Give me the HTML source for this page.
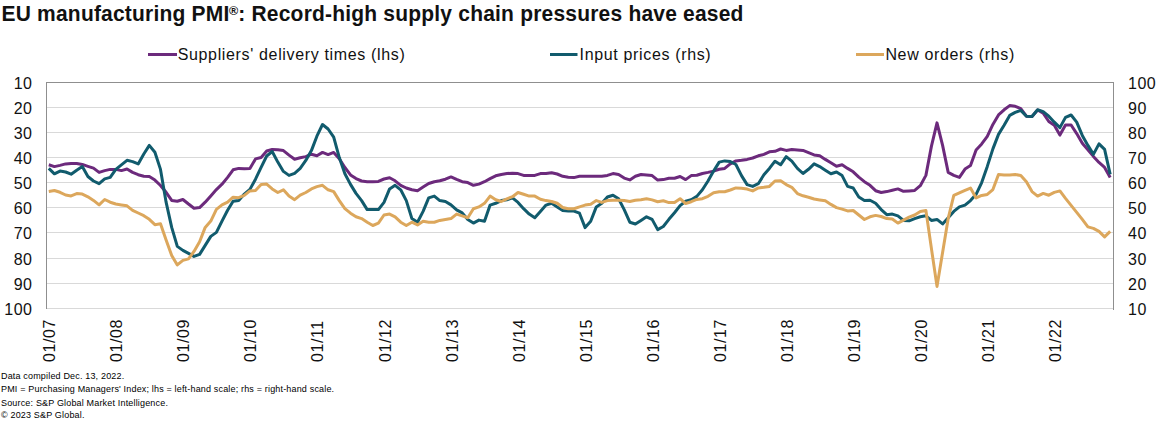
<!DOCTYPE html>
<html><head><meta charset="utf-8"><style>
html,body{margin:0;padding:0;background:#fff;width:1159px;height:422px;overflow:hidden;position:relative;font-family:"Liberation Sans",sans-serif;color:#1e1e1e}
div{position:absolute;white-space:nowrap}
.t{left:1.5px;top:0.5px;font-size:21px;font-weight:bold;color:#111;letter-spacing:0.2px;line-height:26px;transform:scaleY(1.04);transform-origin:0 21px}
.t sup{font-size:12.5px;line-height:0;position:relative;top:2.2px;margin-left:-0.5px;letter-spacing:0}
.lg{top:45px;font-size:16px;letter-spacing:0.65px;line-height:20px;color:#111}
.yl{left:0;width:32.5px;text-align:right;font-size:16px;line-height:19px;color:#111;letter-spacing:0.5px}
.yr{left:1128px;font-size:16px;line-height:19px;color:#111;letter-spacing:0.5px}
.xl{top:333.7px;width:40px;height:16px;font-size:16px;line-height:16px;color:#111;transform:rotate(-90deg);text-align:center;letter-spacing:0.6px}
.fn{left:1px;font-size:9px;letter-spacing:0.17px;line-height:11px;color:#000}
</style></head><body>
<svg width="1159" height="422" style="position:absolute;left:0;top:0">
<g stroke="#d9d9d9" stroke-width="1"><line x1="47" y1="107.5" x2="1113" y2="107.5"/><line x1="47" y1="132.5" x2="1113" y2="132.5"/><line x1="47" y1="157.5" x2="1113" y2="157.5"/><line x1="47" y1="182.5" x2="1113" y2="182.5"/><line x1="47" y1="207.5" x2="1113" y2="207.5"/><line x1="47" y1="232.5" x2="1113" y2="232.5"/><line x1="47" y1="258.5" x2="1113" y2="258.5"/><line x1="47" y1="283.5" x2="1113" y2="283.5"/><line x1="47" y1="308.5" x2="1113" y2="308.5"/></g>
<g stroke="#8f8f8f" stroke-width="1" fill="none"><line x1="46" y1="82.5" x2="1114" y2="82.5"/><line x1="46.5" y1="82" x2="46.5" y2="309"/><line x1="1113.5" y1="82" x2="1113.5" y2="310"/></g>
<g fill="none" stroke-width="3" stroke-linejoin="round" stroke-linecap="butt">
<path d="M48.8 164.8 L54.4 166.6 L60.0 165.4 L65.6 163.9 L71.1 163.4 L76.7 163.4 L82.3 164.4 L87.9 166.3 L93.5 168.1 L99.1 172.4 L104.7 170.6 L110.2 169.4 L115.8 169.4 L121.4 170.6 L127.0 169.0 L132.6 172.4 L138.2 174.7 L143.8 176.2 L149.3 176.5 L154.9 180.1 L160.5 185.5 L166.1 192.3 L171.7 200.4 L177.3 201.3 L182.9 199.5 L188.5 204.0 L194.0 208.2 L199.6 207.6 L205.2 202.2 L210.8 195.9 L216.4 189.6 L222.0 184.2 L227.6 177.4 L233.1 169.8 L238.7 168.4 L244.3 168.8 L249.9 168.6 L255.5 158.9 L261.1 157.5 L266.7 151.0 L272.2 149.4 L277.8 149.7 L283.4 150.6 L289.0 155.1 L294.6 159.3 L300.2 157.8 L305.8 156.6 L311.4 154.2 L316.9 155.7 L322.5 152.4 L328.1 154.6 L333.7 152.4 L339.3 158.7 L344.9 167.5 L350.5 174.9 L356.0 178.6 L361.6 181.0 L367.2 181.7 L372.8 181.7 L378.4 181.4 L384.0 179.0 L389.6 177.8 L395.1 180.8 L400.7 185.3 L406.3 188.0 L411.9 189.8 L417.5 190.7 L423.1 187.1 L428.7 183.5 L434.3 181.7 L439.8 180.8 L445.4 179.2 L451.0 176.9 L456.6 179.4 L462.2 181.7 L467.8 182.6 L473.4 185.3 L478.9 184.1 L484.5 181.7 L490.1 178.6 L495.7 175.8 L501.3 174.5 L506.9 173.6 L512.5 173.2 L518.0 173.6 L523.6 175.4 L529.2 175.4 L534.8 175.4 L540.4 173.6 L546.0 173.6 L551.6 172.7 L557.2 174.0 L562.7 176.3 L568.3 177.2 L573.9 177.6 L579.5 176.3 L585.1 176.3 L590.7 176.3 L596.3 176.3 L601.8 176.3 L607.4 175.4 L613.0 173.6 L618.6 174.5 L624.2 178.1 L629.8 179.9 L635.4 176.3 L641.0 174.5 L646.5 175.0 L652.1 175.6 L657.7 180.1 L663.3 179.6 L668.9 178.3 L674.5 178.3 L680.1 176.5 L685.6 179.6 L691.2 175.6 L696.8 175.3 L702.4 173.5 L708.0 172.4 L713.6 171.1 L719.2 169.3 L724.7 168.4 L730.3 163.9 L735.9 160.9 L741.5 160.3 L747.1 159.4 L752.7 158.0 L758.3 155.8 L763.9 154.4 L769.4 151.8 L775.0 151.3 L780.6 149.0 L786.2 150.4 L791.8 149.5 L797.4 150.0 L803.0 150.4 L808.5 152.6 L814.1 154.9 L819.7 155.8 L825.3 159.4 L830.9 162.7 L836.5 166.3 L842.1 164.8 L847.6 168.4 L853.2 171.8 L858.8 177.2 L864.4 181.7 L870.0 185.3 L875.6 190.7 L881.2 192.5 L886.8 191.6 L892.3 190.2 L897.9 188.9 L903.5 191.3 L909.1 190.9 L914.7 190.4 L920.3 185.7 L925.9 175.4 L931.4 146.4 L937.0 122.9 L942.6 145.4 L948.2 172.4 L953.8 175.4 L959.4 177.4 L965.0 169.1 L970.5 165.6 L976.1 149.9 L981.7 143.9 L987.3 136.4 L992.9 124.4 L998.5 114.9 L1004.1 109.8 L1009.7 105.6 L1015.2 106.3 L1020.8 108.6 L1026.4 116.2 L1032.0 116.5 L1037.6 110.0 L1043.2 113.1 L1048.8 121.5 L1054.3 125.3 L1059.9 135.1 L1065.5 125.0 L1071.1 125.0 L1076.7 133.6 L1082.3 143.2 L1087.9 149.9 L1093.4 156.4 L1099.0 162.4 L1104.6 167.4 L1110.2 177.4" stroke="#6c2a7c"/>
<path d="M48.8 168.4 L54.4 173.8 L60.0 171.1 L65.6 172.0 L71.1 174.2 L76.7 170.2 L82.3 166.6 L87.9 176.5 L93.5 181.0 L99.1 183.7 L104.7 178.9 L110.2 177.4 L115.8 169.3 L121.4 164.8 L127.0 160.3 L132.6 161.6 L138.2 163.9 L143.8 154.0 L149.3 145.4 L154.9 152.2 L160.5 169.4 L166.1 202.2 L171.7 227.4 L177.3 246.4 L182.9 250.4 L188.5 253.4 L194.0 256.4 L199.6 254.4 L205.2 245.4 L210.8 236.4 L216.4 232.4 L222.0 221.1 L227.6 210.3 L233.1 201.3 L238.7 200.4 L244.3 194.1 L249.9 189.4 L255.5 179.2 L261.1 167.4 L266.7 156.0 L272.2 151.5 L277.8 162.1 L283.4 171.4 L289.0 175.4 L294.6 173.3 L300.2 168.4 L305.8 160.4 L311.4 150.6 L316.9 136.2 L322.5 124.5 L328.1 129.0 L333.7 137.1 L339.3 157.6 L344.9 173.8 L350.5 184.4 L356.0 193.4 L361.6 200.6 L367.2 209.6 L372.8 209.6 L378.4 209.6 L384.0 202.4 L389.6 188.9 L395.1 185.3 L400.7 189.8 L406.3 200.6 L411.9 218.6 L417.5 222.2 L423.1 211.4 L428.7 197.9 L434.3 196.1 L439.8 200.6 L445.4 201.5 L451.0 204.9 L456.6 209.9 L462.2 212.9 L467.8 219.5 L473.4 223.1 L478.9 220.1 L484.5 221.3 L490.1 205.1 L495.7 203.3 L501.3 200.6 L506.9 199.7 L512.5 197.9 L518.0 202.4 L523.6 208.7 L529.2 214.1 L534.8 217.7 L540.4 211.4 L546.0 205.1 L551.6 203.3 L557.2 206.9 L562.7 210.5 L568.3 211.1 L573.9 211.1 L579.5 213.2 L585.1 227.6 L590.7 221.3 L596.3 206.9 L601.8 203.3 L607.4 197.0 L613.0 195.2 L618.6 198.8 L624.2 209.6 L629.8 222.2 L635.4 224.0 L641.0 220.4 L646.5 216.8 L652.1 219.4 L657.7 229.6 L663.3 226.5 L668.9 219.3 L674.5 212.7 L680.1 205.6 L685.6 201.3 L691.2 199.7 L696.8 196.4 L702.4 189.8 L708.0 181.0 L713.6 171.1 L719.2 162.1 L724.7 160.9 L730.3 161.6 L735.9 164.5 L741.5 175.6 L747.1 184.6 L752.7 186.4 L758.3 183.7 L763.9 174.7 L769.4 168.4 L775.0 161.2 L780.6 164.8 L786.2 156.7 L791.8 161.2 L797.4 168.4 L803.0 173.5 L808.5 169.3 L814.1 163.9 L819.7 166.6 L825.3 170.2 L830.9 173.8 L836.5 172.0 L842.1 175.6 L847.6 186.4 L853.2 188.0 L858.8 197.0 L864.4 200.6 L870.0 200.3 L875.6 203.3 L881.2 209.6 L886.8 214.7 L892.3 214.1 L897.9 215.9 L903.5 220.4 L909.1 220.8 L914.7 218.6 L920.3 216.8 L925.9 215.8 L931.4 220.4 L937.0 219.4 L942.6 223.9 L948.2 217.7 L953.8 211.4 L959.4 206.9 L965.0 205.1 L970.5 200.6 L976.1 194.3 L981.7 182.6 L987.3 166.4 L992.9 148.9 L998.5 134.4 L1004.1 125.3 L1009.7 115.4 L1015.2 112.4 L1020.8 110.4 L1026.4 116.2 L1032.0 116.5 L1037.6 109.8 L1043.2 111.6 L1048.8 116.2 L1054.3 122.2 L1059.9 127.6 L1065.5 117.4 L1071.1 115.0 L1076.7 122.2 L1082.3 135.4 L1087.9 145.4 L1093.4 154.4 L1099.0 143.9 L1104.6 149.4 L1110.2 174.4" stroke="#115b6d"/>
<path d="M48.8 191.4 L54.4 190.5 L60.0 192.3 L65.6 195.0 L71.1 195.9 L76.7 193.6 L82.3 194.1 L87.9 196.8 L93.5 200.4 L99.1 204.9 L104.7 199.5 L110.2 202.2 L115.8 204.0 L121.4 204.9 L127.0 205.8 L132.6 210.3 L138.2 213.0 L143.8 215.7 L149.3 219.3 L154.9 224.7 L160.5 223.8 L166.1 240.0 L171.7 255.4 L177.3 264.9 L182.9 260.4 L188.5 258.9 L194.0 251.4 L199.6 241.8 L205.2 227.4 L210.8 221.1 L216.4 209.4 L222.0 204.9 L227.6 202.2 L233.1 197.2 L238.7 197.7 L244.3 195.4 L249.9 190.9 L255.5 190.4 L261.1 184.4 L266.7 184.1 L272.2 188.9 L277.8 192.5 L283.4 189.8 L289.0 196.1 L294.6 199.7 L300.2 195.2 L305.8 192.5 L311.4 188.9 L316.9 186.6 L322.5 185.3 L328.1 189.8 L333.7 191.6 L339.3 200.6 L344.9 208.7 L350.5 213.2 L356.0 216.8 L361.6 218.6 L367.2 222.2 L372.8 225.5 L378.4 223.1 L384.0 215.0 L389.6 214.1 L395.1 216.8 L400.7 222.2 L406.3 225.5 L411.9 222.2 L417.5 224.9 L423.1 221.3 L428.7 222.2 L434.3 222.2 L439.8 220.4 L445.4 219.5 L451.0 218.6 L456.6 214.1 L462.2 215.9 L467.8 217.7 L473.4 208.7 L478.9 206.9 L484.5 203.3 L490.1 196.1 L495.7 199.7 L501.3 201.5 L506.9 198.8 L512.5 196.7 L518.0 192.5 L523.6 194.3 L529.2 196.1 L534.8 196.1 L540.4 199.2 L546.0 200.6 L551.6 201.5 L557.2 203.3 L562.7 207.5 L568.3 208.7 L573.9 208.7 L579.5 206.9 L585.1 205.1 L590.7 204.2 L596.3 200.6 L601.8 202.4 L607.4 200.6 L613.0 200.3 L618.6 200.3 L624.2 200.6 L629.8 201.5 L635.4 200.3 L641.0 199.7 L646.5 198.8 L652.1 199.9 L657.7 201.7 L663.3 200.8 L668.9 202.6 L674.5 202.6 L680.1 198.7 L685.6 203.5 L691.2 201.7 L696.8 199.4 L702.4 198.7 L708.0 196.3 L713.6 192.7 L719.2 191.8 L724.7 191.8 L730.3 190.0 L735.9 187.9 L741.5 188.2 L747.1 189.1 L752.7 190.9 L758.3 187.9 L763.9 187.3 L769.4 186.4 L775.0 181.0 L780.6 180.7 L786.2 184.6 L791.8 187.3 L797.4 193.6 L803.0 195.8 L808.5 197.2 L814.1 199.0 L819.7 199.9 L825.3 200.8 L830.9 204.4 L836.5 207.6 L842.1 209.1 L847.6 210.9 L853.2 210.5 L858.8 215.0 L864.4 219.5 L870.0 216.8 L875.6 215.4 L881.2 216.5 L886.8 218.6 L892.3 219.0 L897.9 223.1 L903.5 220.1 L909.1 217.2 L914.7 215.0 L920.3 211.4 L925.9 210.4 L931.4 248.4 L937.0 286.4 L942.6 252.4 L948.2 218.4 L953.8 195.4 L959.4 192.9 L965.0 190.4 L970.5 188.1 L976.1 197.9 L981.7 195.4 L987.3 194.4 L992.9 189.6 L998.5 174.5 L1004.1 175.0 L1009.7 175.0 L1015.2 174.5 L1020.8 175.4 L1026.4 181.7 L1032.0 191.6 L1037.6 196.1 L1043.2 193.4 L1048.8 195.2 L1054.3 192.4 L1059.9 190.9 L1065.5 198.4 L1071.1 205.4 L1076.7 212.4 L1082.3 219.4 L1087.9 226.9 L1093.4 228.4 L1099.0 231.4 L1104.6 236.9 L1110.2 231.4" stroke="#dca75c"/>
</g>
<g stroke-width="3"><line x1="148" y1="54.5" x2="177" y2="54.5" stroke="#6c2a7c"/><line x1="550" y1="54.5" x2="577.5" y2="54.5" stroke="#115b6d"/><line x1="856" y1="54.5" x2="884" y2="54.5" stroke="#dca75c"/></g>
</svg>
<div class="t">EU manufacturing PMI<sup>®</sup>: Record-high supply chain pressures have eased</div>
<div class="lg" style="left:177.7px">Suppliers' delivery times (lhs)</div>
<div class="lg" style="left:579.6px">Input prices (rhs)</div>
<div class="lg" style="left:885.4px">New orders (rhs)</div>
<div class="yl" style="top:73.5px">10</div><div class="yl" style="top:98.5px">20</div><div class="yl" style="top:123.5px">30</div><div class="yl" style="top:148.5px">40</div><div class="yl" style="top:173.5px">50</div><div class="yl" style="top:198.5px">60</div><div class="yl" style="top:223.5px">70</div><div class="yl" style="top:249.5px">80</div><div class="yl" style="top:274.5px">90</div><div class="yl" style="top:299.5px">100</div><div class="yr" style="top:73.5px">100</div><div class="yr" style="top:98.5px">90</div><div class="yr" style="top:123.5px">80</div><div class="yr" style="top:148.5px">70</div><div class="yr" style="top:173.5px">60</div><div class="yr" style="top:198.5px">50</div><div class="yr" style="top:223.5px">40</div><div class="yr" style="top:249.5px">30</div><div class="yr" style="top:274.5px">20</div><div class="yr" style="top:299.5px">10</div>
<div class="xl" style="left:30.3px">01/07</div><div class="xl" style="left:97.3px">01/08</div><div class="xl" style="left:164.4px">01/09</div><div class="xl" style="left:231.4px">01/10</div><div class="xl" style="left:298.4px">01/11</div><div class="xl" style="left:365.5px">01/12</div><div class="xl" style="left:432.5px">01/13</div><div class="xl" style="left:499.5px">01/14</div><div class="xl" style="left:566.6px">01/15</div><div class="xl" style="left:633.6px">01/16</div><div class="xl" style="left:700.7px">01/17</div><div class="xl" style="left:767.7px">01/18</div><div class="xl" style="left:834.7px">01/19</div><div class="xl" style="left:901.8px">01/20</div><div class="xl" style="left:968.8px">01/21</div><div class="xl" style="left:1035.8px">01/22</div>
<div class="fn" style="top:370.5px">Data compiled Dec. 13, 2022.</div>
<div class="fn" style="top:384px">PMI = Purchasing Managers' Index; lhs = left-hand scale; rhs = right-hand scale.</div>
<div class="fn" style="top:397.5px">Source: S&amp;P Global Market Intelligence.</div>
<div class="fn" style="top:410px">© 2023 S&amp;P Global.</div>
</body></html>
